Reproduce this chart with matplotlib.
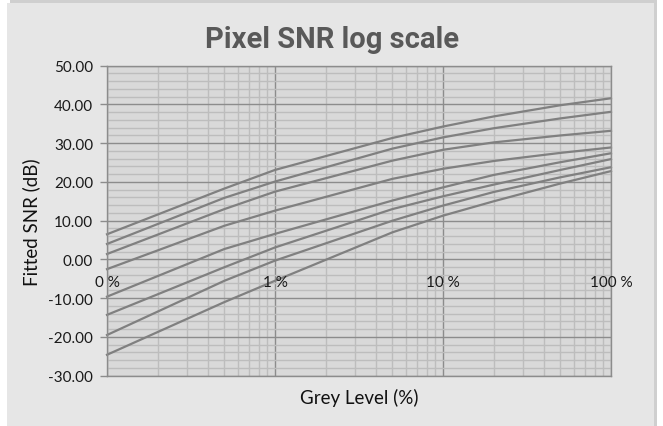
import numpy as np
import matplotlib.pyplot as plt
from matplotlib.patches import Rectangle
from matplotlib.ticker import FixedLocator, NullFormatter

# grey level (%) where the curves were read
grey = [0.1, 0.5, 1, 5, 10, 20, 50, 100]

# fitted SNR (dB), one list per curve, top to bottom
snr1 = [6.5, 18.3, 23.1, 31.35, 34.3, 36.9, 39.8, 41.6]
snr2 = [4.0, 15.9, 20.1, 28.6, 31.5, 33.85, 36.4, 38.1]
snr3 = [1.4, 13.0, 17.5, 25.5, 28.3, 30.2, 32.0, 33.2]
snr4 = [-2.5, 8.7, 12.6, 20.8, 23.4, 25.4, 27.5, 28.9]
snr5 = [-9.6, 2.7, 6.6, 15.2, 18.6, 21.8, 25.1, 27.4]
snr6 = [-14.3, -2.0, 3.1, 13.0, 16.3, 19.3, 23.1, 25.9]
snr7 = [-19.5, -5.5, -0.3, 10.0, 13.9, 17.4, 21.2, 23.8]
snr8 = [-24.6, -11.0, -5.5, 7.0, 11.3, 15.0, 19.6, 22.8]
curves = [snr1, snr2, snr3, snr4, snr5, snr6, snr7, snr8]

xticks = [0.1, 1, 10, 100]
xlabels = ['0 %', '1 %', '10 %', '100 %']
yticks = np.arange(-30, 51, 10)

W, H = 663, 427
fig = plt.figure(figsize=(W / 100, H / 100), dpi=100, facecolor='white')

# chart area box with a faint shadow
fig.patches.append(Rectangle((10 / W, 0), 647 / W, 1 - 1 / H, transform=fig.transFigure,
                             facecolor='#cfcfcf', edgecolor='none', zorder=-10))
fig.patches.append(Rectangle((7 / W, 0), 647 / W, 1 - 4 / H, transform=fig.transFigure,
                             facecolor='#e6e6e6', edgecolor='none', zorder=-9))

ax = fig.add_axes([107 / W, 1 - 376.7 / H, 504 / W, 310 / H])
ax.set_zorder(1)
ax.set_facecolor('#d9d9d9')
ax.set_xscale('log')
ax.set_xlim(0.1, 100)
ax.set_ylim(-30, 50)

ax.xaxis.set_major_locator(FixedLocator(xticks))
ax.xaxis.set_minor_locator(FixedLocator([m * d for d in [0.1, 1, 10] for m in range(2, 10)]))
ax.xaxis.set_major_formatter(NullFormatter())
ax.xaxis.set_minor_formatter(NullFormatter())
ax.tick_params(axis='x', which='both', length=0)

ax.set_yticks(yticks)
ax.set_yticks(np.arange(-30, 51, 2), minor=True)
ax.set_yticklabels(['%.2f' % v for v in yticks], fontfamily='Lato', fontsize=11, color='#1a1a1a')
ax.tick_params(axis='y', which='major', length=5, width=1, color='#8c8c8c', direction='out', pad=5)
ax.tick_params(axis='y', which='minor', length=0)

ax.grid(which='minor', color='#bdbdbd', lw=1.0)
ax.grid(which='major', color='#8c8c8c', lw=1.0)
ax.set_axisbelow(True)
for s in ax.spines.values():
    s.set_color('#8c8c8c')
    s.set_linewidth(1.0)

for c in curves:
    ax.plot(grey, c, color='#808080', lw=1.6, solid_joinstyle='round', clip_on=False)

# x tick labels sit under the y=0 line (axis crosses at 0)
for x, lab in zip(xticks, xlabels):
    ax.annotate(lab, (x, 0), xytext=(0, -16), textcoords='offset points',
                ha='center', va='center', fontfamily='Lato', fontsize=11, color='#1a1a1a')

ax.set_xlabel('Grey Level (%)', fontfamily='Lato', fontsize=13.5, color='#111111', labelpad=5)
ax.set_ylabel('Fitted SNR (dB)', fontfamily='Lato', fontsize=13.5, color='#111111', labelpad=6)

fig.text(332 / W, 1 - 40 / H, 'Pixel SNR log scale', ha='center', va='center',
         fontfamily='Roboto', fontweight='bold', fontsize=21, color='#595959')

fig.savefig('out.png', dpi=100, facecolor=fig.get_facecolor())
